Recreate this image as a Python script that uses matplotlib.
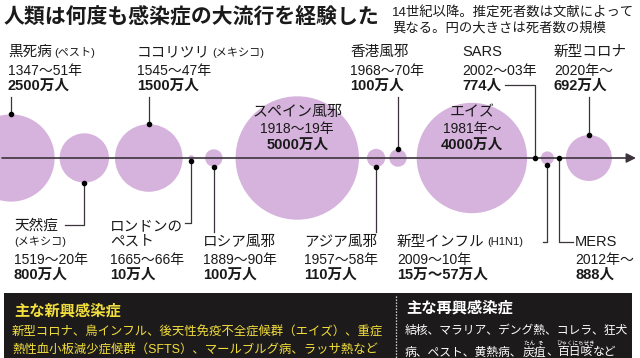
import matplotlib.pyplot as plt
from matplotlib.patches import Circle, Rectangle
import numpy as np

# latin/digits in Liberation Sans (static file), CJK falls through to Noto
plt.rcParams['font.family'] = ['Liberation Sans', 'Noto Sans CJK JP', 'DejaVu Sans']

# ______DATA______
names = ['黒死病', '天然痘', 'ココリツリ', 'ロンドンの', 'ロシア風邪', 'スペイン風邪', 'アジア風邪',
         '香港風邪', 'エイズ', 'SARS', '新型インフル', 'MERS', '新型コロナ']
name_notes = ['(ペスト)', '(メキシコ)', '(メキシコ)', 'ペスト', '', '', '', '', '', '', '(H1N1)', '', '']
periods = ['1347〜51年', '1519〜20年', '1545〜47年', '1665〜66年', '1889〜90年', '1918〜19年', '1957〜58年',
           '1968〜70年', '1981年〜', '2002〜03年', '2009〜10年', '2012年〜', '2020年〜']
death_labels = ['2500万人', '800万人', '1500万人', '10万人', '100万人', '5000万人', '110万人',
                '100万人', '4000万人', '774人', '15万〜57万人', '888人', '692万人']
deaths_man = [2500, 800, 1500, 10, 100, 5000, 110, 100, 4000, 0.0774, 57, 0.0888, 692]  # 万人 (H1N1: upper value)

title = '人類は何度も感染症の大流行を経験した'
subtitle = ['14世紀以降。推定死者数は文献によって', '異なる。円の大きさは死者数の規模']
emerging_head = '主な新興感染症'
emerging = ['新型コロナ、鳥インフル、後天性免疫不全症候群（エイズ）、重症',
            '熱性血小板減少症候群（SFTS）、マールブルグ病、ラッサ熱など']
reemerging_head = '主な再興感染症'
reemerging_1 = '結核、マラリア、デング熱、コレラ、狂犬'
reemerging_2 = [('病、ペスト、黄熱病、', ''), ('炭疽', 'たん  そ'), ('、', ''), ('百日咳', 'ひゃくにちぜき'), ('など', '')]

# ______LAYOUT______
W, H = 640, 358
axis_y = 158
first_x = 11
gaps = [5, 6, 6, 11, 13, 8, 4, 10, 8, 5.2, 5, 6.5]   # space between neighbouring bubbles
r_scale = 61.7 / np.sqrt(5000)                      # bubble area ~ deaths
# side, label x, leader elbow (y, x end) or None
layout = [('top', 8, None), ('bottom', 14, (225, 65)), ('top', 137, None), ('bottom', 110, (223, 185)),
          ('bottom', 203, None), ('inside', None, None), ('bottom', 304, None), ('top', 350, None),
          ('inside', None, None), ('top', 462, (85, 505)), ('bottom', 397, (241.5, 543)),
          ('bottom', 575, (241.5, 573)), ('top', 554, None)]

bubble_col = '#d6b3dc'
line_col = '#3d333d'
ink = '#1a1a1a'

radii = r_scale * np.sqrt(np.array(deaths_man))
centers = [first_x]
for i in range(1, len(radii)):
    centers.append(centers[-1] + radii[i - 1] + gaps[i - 1] + radii[i])

fig = plt.figure(figsize=(W / 100, H / 100), dpi=100)
ax = fig.add_axes([0, 0, 1, 1])
ax.set_xlim(0, W)
ax.set_ylim(H, 0)
ax.axis('off')

# title
ax.text(4, 17, title, fontsize=15, fontweight='bold', color=ink, va='center', ha='left')
ax.text(392, 13, subtitle[0], fontsize=9.6, color=ink, va='center')
ax.text(392, 28, subtitle[1], fontsize=9.6, color=ink, va='center')

# bubbles
for cx, r in zip(centers, radii):
    ax.add_patch(Circle((cx, axis_y), r, color=bubble_col, lw=0, zorder=1))

# timeline
ax.annotate('', xy=(636, axis_y), xytext=(2, axis_y),
            arrowprops=dict(arrowstyle='-|>', color=line_col, lw=1.2, mutation_scale=14,
                            shrinkA=0, shrinkB=0), zorder=2)

name_fs, note_fs, year_fs, death_fs = 10.5, 8, 10, 10.5


def label_block(x, y_name, y_year, y_death, i, note_below=False):
    t = ax.text(x, y_name, names[i], fontsize=name_fs, color=ink, va='center')
    if name_notes[i]:
        if note_below:
            fs = name_fs if names[i] == 'ロンドンの' else note_fs
            ax.text(x, y_name + 16, name_notes[i], fontsize=fs, color=ink, va='center')
        else:
            ax.annotate(name_notes[i], xy=(1, 0.45), xycoords=t, xytext=(1.5, 0), textcoords='offset points',
                        fontsize=note_fs, color=ink, va='center')
    ax.text(x, y_year, periods[i], fontsize=year_fs, color=ink, va='center')
    ax.text(x, y_death, death_labels[i], fontsize=death_fs, fontweight='bold', color=ink, va='center')


for i, (side, lx, elbow) in enumerate(layout):
    cx, r = centers[i], radii[i]
    if side == 'inside':
        ax.text(cx, 112, names[i], fontsize=10.8, color=ink, ha='center', va='center', zorder=3)
        ax.text(cx, 129, periods[i], fontsize=10, color=ink, ha='center', va='center', zorder=3)
        ax.text(cx, 145, death_labels[i], fontsize=10.5, fontweight='bold', color=ink, ha='center',
                va='center', zorder=3)
        continue
    if side == 'top':
        dot_y = axis_y - r if r > 1 else axis_y
        label_block(lx, 52, 71, 86, i)
        if elbow:
            ey, ex = elbow
            ax.plot([cx, cx, ex], [dot_y, ey, ey], color=line_col, lw=0.9, zorder=2)
        else:
            ax.plot([cx, cx], [dot_y, 97], color=line_col, lw=0.9, zorder=2)
    else:
        dot_y = axis_y + r if r > 1 else axis_y
        two_line = names[i] in ('天然痘', 'ロンドンの')
        label_block(lx, 226 if two_line else 241.5, 260, 275, i, note_below=two_line)
        if elbow:
            ey, ex = elbow
            ax.plot([cx, cx, ex], [dot_y, ey, ey], color=line_col, lw=0.9, zorder=2)
        else:
            ax.plot([cx, cx], [dot_y, 232], color=line_col, lw=0.9, zorder=2)
    ax.plot(cx, dot_y, 'o', color='black', markersize=3, zorder=4)

# bottom panel
ax.add_patch(Rectangle((4, 293), 628, 66, color='#1c1a1b', lw=0, zorder=1))
ax.plot([396, 396], [296, 358], color='white', lw=0.9, ls=(0, (1, 1.4)), zorder=2)

yellow = '#f3df3c'
ax.text(14, 311, emerging_head, fontsize=11, fontweight='bold', color=yellow, va='center')
ax.text(12, 332.5, emerging[0], fontsize=8.9, color=yellow, va='center')
ax.text(12, 349.5, emerging[1], fontsize=8.9, color=yellow, va='center')

ax.text(406, 308, reemerging_head, fontsize=11, fontweight='bold', color='white', va='center')
ax.text(405, 330.5, reemerging_1, fontsize=8.5, color='white', va='center')
prev = ax.text(405, 352.5, reemerging_2[0][0], fontsize=8.5, color='white', va='center')
for piece, ruby in reemerging_2[1:]:
    prev = ax.annotate(piece, xy=(1, 0.5), xycoords=prev, fontsize=8.5, color='white', va='center')
    if ruby:
        ax.annotate(ruby, xy=(0.5, 1.0), xycoords=prev, xytext=(0, 0.3), textcoords='offset points',
                    fontsize=4, color='white', ha='center', va='bottom')

fig.savefig('out.png', dpi=100)
